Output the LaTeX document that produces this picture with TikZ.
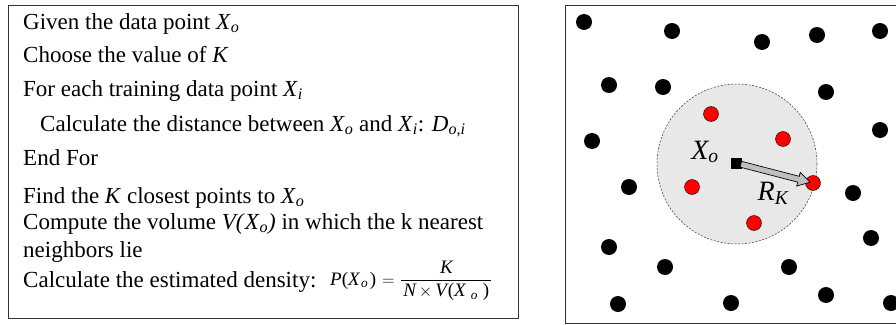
\documentclass[tikz,border=0pt]{standalone}
\usepackage{fontspec}
\setmainfont{Liberation Serif}
\usepackage{amsmath}
\usetikzlibrary{arrows.meta,calc}
\newcommand\myXo{\textit{X}\textsubscript{\textit{o}}}
\newcommand\myit[1]{\text{\itshape #1}}
\begin{document}
\begin{tikzpicture}[x=1pt,y=-1pt,
 txt/.style={anchor=base west, inner sep=0, font=\fontsize{23}{27}\selectfont},
 bdot/.style={circle, fill=black, inner sep=0, minimum size=16pt},
 rdot/.style={circle, fill=red, draw=black, line width=0.4pt, inner sep=0, minimum size=15pt},
 panel/.style={draw=black!80, line width=0.9pt, inner sep=0, anchor=north west},
 biglbl/.style={inner sep=0, font=\fontsize{28}{30}\selectfont\itshape},
 blockarrow/.style={fill=gray!50, draw=black, line width=0.7pt, line join=miter}
]
\useasboundingbox (0,0) rectangle (896,324);
% left panel
\node[panel, minimum width=510pt, minimum height=313pt] (lbox) at (8,5) {};
\node[txt] (l1) at (23,29) {Given the data point \myXo};
\node[txt] (l2) at (23,62) {Choose the value of \textit{K}};
\node[txt] (l3) at (23,96) {For each training data point \textit{X}\textsubscript{\textit{i}}};
\node[txt] (l4) at (40,131) {Calculate the distance between \myXo{} and \textit{X}\textsubscript{\textit{i}}: \textit{D}\textsubscript{\textit{o,i}}};
\node[txt] (l5) at (23,165) {End For};
\node[txt] (l6) at (23,203) {Find the \textit{K} closest points to \myXo};
\node[txt] (l7) at (23,229) {Compute the volume \textit{V(}\myXo\textit{)} in which the k nearest};
\node[txt] (l8) at (23,257) {neighbors lie};
\node[txt] (l9) at (23,287) {Calculate the estimated density:};
\node[anchor=west, inner sep=0, font=\fontsize{19}{21}\selectfont] (form) at (330,281)
 {$\myit{P}\text{(}\myit{X}_{\hspace{1.5pt}\myit{o}}\hspace{1.5pt}\text{)}\hspace{1pt}=\hspace{1pt}\dfrac{\myit{K}}{\hspace{2pt}\myit{N}\hspace{-1pt}\times\hspace{-1pt}\myit{V}\hspace{1pt}\text{(}\myit{X}_{\hspace{5pt}\myit{o}}\hspace{5pt}\text{)}\hspace{2pt}}$};
% right panel
\node[panel, minimum width=340pt, minimum height=318pt] (rbox) at (565,5) {};
\node[circle, draw=black!80, dash pattern=on 2pt off 1.5pt, line width=0.5pt, fill=gray!18, minimum size=160pt, inner sep=0] (reg) at (737,164) {};
\foreach \n/\x/\y in {1/584/22, 2/672/31, 3/762/42, 4/817/35, 5/880/31, 6/609/85, 7/663/87,
  8/826/92, 9/880/130, 10/592/141, 11/629/187, 12/853/193, 13/871/238, 14/609/247,
  15/665/267, 16/789/267, 17/826/295, 18/618/304, 19/731/303, 20/891/303}
  \node[bdot] (d\n) at (\x,\y) {};
\foreach \n/\x/\y in {1/711/114, 2/783/139, 3/692/187, 4/754/223, 5/813/183}
  \node[rdot] (r\n) at (\x,\y) {};
\node[fill=black, inner sep=0, minimum size=11pt] (sq) at (736,163) {};
% block arrow from the square to the farthest neighbour
\coordinate (a0) at ($(sq)!5pt!(r5)$);
\coordinate (tip) at ($(r5)!3pt!(sq)$);
\coordinate (a1) at ($(r5)!15pt!(sq)$);
\draw[blockarrow] ($(a0)!3pt!90:(tip)$) -- ($(a1)!3pt!90:(tip)$) -- ($(a1)!7pt!90:(tip)$)
  -- (tip) -- ($(a1)!7pt!-90:(tip)$) -- ($(a1)!3pt!-90:(tip)$) -- ($(a0)!3pt!-90:(tip)$) -- cycle;
\node[biglbl] (lxo) at (705,152) {X\textsubscript{o}};
\node[biglbl] (lrk) at (773,193) {R\textsubscript{K}};
\end{tikzpicture}
\end{document}
